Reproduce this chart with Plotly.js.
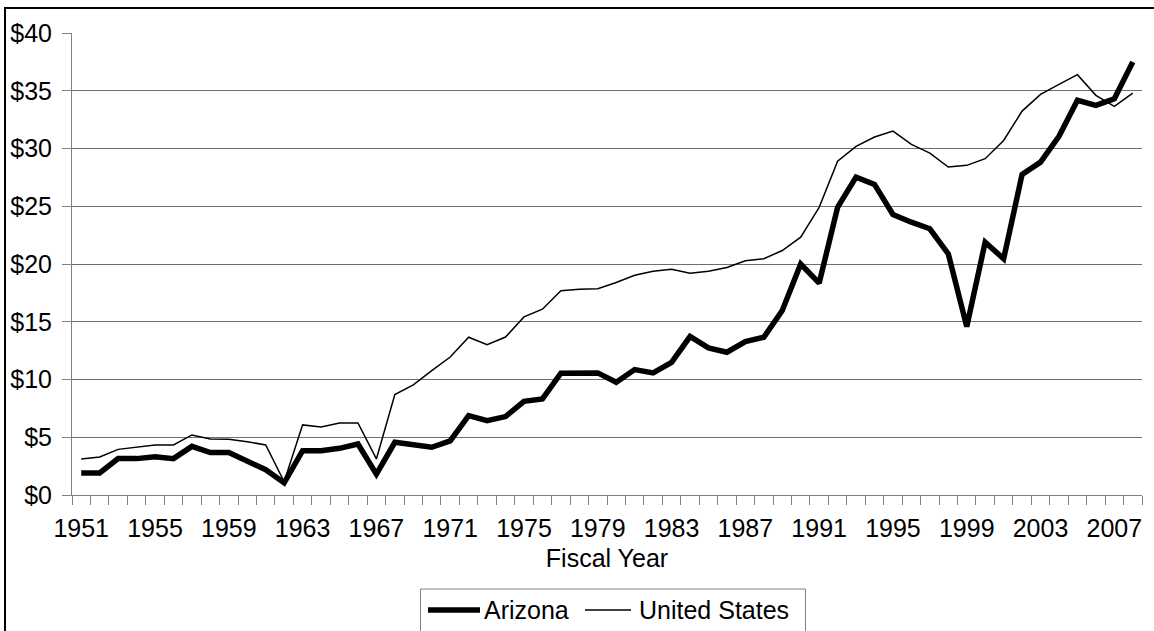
<!DOCTYPE html>
<html>
<head>
<meta charset="utf-8">
<script src="https://cdn.plot.ly/plotly-3.0.1.min.js"></script>
<style>
html,body{margin:0;padding:0;overflow:hidden;background:#fff;}
#chart{width:1154px;height:631px;}
</style>
</head>
<body>
<div id="chart"></div>
<script>
const years = [];
for (let y = 1951; y <= 2008; y++) years.push(y);

const arizona = [
  1.91, 1.91, 3.15, 3.15, 3.32, 3.15, 4.21, 3.67, 3.67, 2.89,
  2.19, 1.05, 3.84, 3.84, 4.04, 4.42, 1.80, 4.56, 4.36, 4.13,
  4.68, 6.87, 6.44, 6.79, 8.11, 8.32, 10.55, 10.57, 10.57, 9.76,
  10.86, 10.57, 11.49, 13.72, 12.74, 12.36, 13.28, 13.66, 15.97, 20.00,
  18.34, 24.90, 27.52, 26.89, 24.29, 23.62, 23.05, 20.88, 14.58, 21.89,
  20.45, 27.76, 28.82, 31.05, 34.17, 33.73, 34.31, 37.49
];

const unitedStates = [
  3.12, 3.29, 3.95, 4.16, 4.33, 4.33, 5.20, 4.85, 4.82, 4.62,
  4.33, 1.15, 6.07, 5.89, 6.24, 6.24, 3.12, 8.69, 9.53, 10.77,
  11.95, 13.66, 13.02, 13.68, 15.42, 16.09, 17.68, 17.82, 17.85, 18.40,
  19.03, 19.38, 19.55, 19.20, 19.38, 19.70, 20.28, 20.45, 21.17, 22.32,
  24.90, 28.90, 30.18, 30.99, 31.51, 30.36, 29.60, 28.39, 28.54, 29.12,
  30.70, 33.24, 34.69, 35.55, 36.39, 34.60, 33.65, 34.80
];

const xTickYears = [1951,1955,1959,1963,1967,1971,1975,1979,1983,1987,1991,1995,1999,2003,2007];
const xTickText = xTickYears.map(String);
const yTickVals = [0,5,10,15,20,25,30,35,40];
const yTickText = yTickVals.map(v => '$' + v);

const seriesNames = ['Arizona', 'United States'];

// category boundaries (tick marks between years)
const xBoundaries = [];
for (let y = 1950.5; y <= 2008.5; y += 1) xBoundaries.push(y);

const FONT = 'Arial, "Liberation Sans", sans-serif';

const traces = [
  {
    x: years, y: unitedStates, type: 'scatter', mode: 'lines', name: seriesNames[1],
    xaxis: 'x2', yaxis: 'y',
    line: {color: '#000000', width: 1.5}, showlegend: false
  },
  {
    x: years, y: arizona, type: 'scatter', mode: 'lines', name: seriesNames[0],
    xaxis: 'x', yaxis: 'y',
    line: {color: '#000000', width: 5.5}, showlegend: false
  }
];

// helpers for paper coords (plot area: x 72..1142, y 33..495)
const L = 72, R = 12, T = 33, B = 136;
const PW = 1154 - L - R, PH = 631 - T - B;
const px = v => (v - L) / PW;
const py = v => (631 - B - v) / PH;

const layout = {
  width: 1154, height: 631,
  margin: {l: L, r: R, t: T, b: B},
  paper_bgcolor: '#ffffff', plot_bgcolor: '#ffffff',
  font: {family: FONT, size: 25, color: '#000000'},
  showlegend: false,
  // axis carrying the boundary tick marks
  xaxis: {
    type: 'linear', range: [1950.5, 2008.5],
    tickmode: 'array', tickvals: xBoundaries, ticktext: xBoundaries.map(() => ''),
    ticks: 'outside', ticklen: 9, tickcolor: '#808080', tickwidth: 1,
    showgrid: false, zeroline: false,
    showline: true, linecolor: '#808080', linewidth: 1,
    automargin: false
  },
  // axis carrying the year labels
  xaxis2: {
    type: 'linear', range: [1950.5, 2008.5],
    overlaying: 'x', anchor: 'y', side: 'bottom',
    tickmode: 'array', tickvals: xTickYears, ticktext: xTickText,
    ticks: 'outside', ticklen: 11, tickcolor: 'rgba(0,0,0,0)',
    showgrid: false, zeroline: false, showline: false,
    tickfont: {family: FONT, size: 25, color: '#000000'},
    title: {text: 'Fiscal Year', font: {family: FONT, size: 25, color: '#000000'}, standoff: 8},
    automargin: false
  },
  yaxis: {
    range: [0, 40],
    tickmode: 'array', tickvals: yTickVals, ticktext: yTickText,
    ticks: 'outside', ticklen: 9, tickcolor: '#808080',
    ticklabelstandoff: 5,
    showgrid: true, gridcolor: '#6e6e6e', gridwidth: 1,
    zeroline: false,
    showline: true, linecolor: '#808080', linewidth: 1,
    tickfont: {family: FONT, size: 25, color: '#000000'},
    automargin: false
  },
  shapes: [
    // outer chart border
    {type: 'rect', xref: 'paper', yref: 'paper', x0: px(5), x1: px(1200), y0: py(700), y1: py(8),
     line: {color: '#000000', width: 2}, fillcolor: 'rgba(0,0,0,0)'},
    // legend box
    {type: 'rect', xref: 'paper', yref: 'paper', x0: px(420.5), x1: px(805.5), y0: py(660), y1: py(589),
     line: {color: '#808080', width: 1}, fillcolor: 'rgba(0,0,0,0)'},
    // legend samples
    {type: 'line', xref: 'paper', yref: 'paper', x0: px(428), x1: px(480), y0: py(610), y1: py(610),
     line: {color: '#000000', width: 5.5}},
    {type: 'line', xref: 'paper', yref: 'paper', x0: px(585), x1: px(631), y0: py(610), y1: py(610),
     line: {color: '#000000', width: 1.5}}
  ],
  annotations: [
    {xref: 'paper', yref: 'paper', x: px(482), y: py(610), xanchor: 'left', yanchor: 'middle',
     text: seriesNames[0], showarrow: false, font: {family: FONT, size: 25, color: '#000000'}},
    {xref: 'paper', yref: 'paper', x: px(637), y: py(610), xanchor: 'left', yanchor: 'middle',
     text: seriesNames[1], showarrow: false, font: {family: FONT, size: 25, color: '#000000'}}
  ]
};

Plotly.newPlot('chart', traces, layout, {displayModeBar: false, staticPlot: true});
</script>
</body>
</html>
